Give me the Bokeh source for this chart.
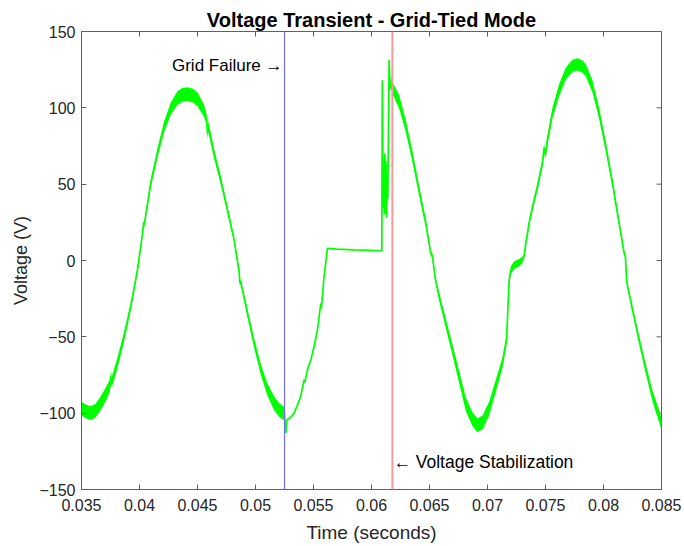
from bokeh.plotting import figure
from bokeh.models import Range1d, FixedTicker, Label, Span, ColumnDataSource
from bokeh.embed import file_html
from bokeh.resources import INLINE

# ---- data ----
time_s = [
    0.03500, 0.03540, 0.03580, 0.03620, 0.03666, 0.03710, 0.03745, 0.03753, 0.03760, 0.03810,
    0.03867, 0.03925, 0.03983, 0.04030, 0.04036, 0.04040, 0.04097, 0.04155, 0.04212, 0.04270,
    0.04328, 0.04370, 0.04414, 0.04460, 0.04500, 0.04557, 0.04580, 0.04586, 0.04592, 0.04643,
    0.04701, 0.04759, 0.04816, 0.04860, 0.04866, 0.04873, 0.04931, 0.04988, 0.05046, 0.05103,
    0.05160, 0.05205, 0.05250,
    0.05255, 0.05262, 0.05270, 0.05300, 0.05333, 0.05360, 0.05390, 0.05419, 0.05425, 0.05448,
    0.05477, 0.05505, 0.05534, 0.05563, 0.05568, 0.05591, 0.05620, 0.05700, 0.05850, 0.06089,
    0.06093, 0.06100, 0.06105, 0.06110, 0.06115, 0.06120, 0.06125, 0.06130, 0.06135, 0.06140,
    0.06145, 0.06152, 0.06160,
    0.06167, 0.06181, 0.06238, 0.06296, 0.06353, 0.06410, 0.06468, 0.06510, 0.06525, 0.06550,
    0.06583, 0.06640, 0.06698, 0.06755, 0.06813, 0.06871, 0.06914, 0.06957, 0.07014, 0.07072,
    0.07129, 0.07164, 0.07178, 0.07186, 0.07201, 0.07229, 0.07272, 0.07302, 0.07316, 0.07330,
    0.07359, 0.07388, 0.07431, 0.07474, 0.07488, 0.07498, 0.07517, 0.07560, 0.07617, 0.07675,
    0.07733, 0.07776, 0.07820, 0.07848, 0.07905, 0.07962, 0.08020, 0.08078, 0.08130, 0.08178,
    0.08190, 0.08200, 0.08250, 0.08307, 0.08366, 0.08423, 0.08480, 0.08500,
]
voltage_v = [
    -97, -99, -100, -98.5, -93.5, -87.5, -82, -76, -80, -67,
    -50, -30, -6, 20, 25, 23, 50.5, 70.5, 87.5, 99.5,
    106.5, 108.5, 109, 108, 105.5, 98, 92, 83, 88, 70,
    52.5, 33, 13.5, -8, -15, -14, -34.5, -54, -71.5, -84.5,
    -93.5, -98, -100.5,
    -106, -113, -104.5, -103, -100, -95, -89, -78, -80, -71.5,
    -65, -56.5, -45.5, -28, -31, -10.5, 8, 7.5, 7, 6.4,
    118, 35, 60, 30, 70, 32, 65, 28, 55, 40,
    72, 131.5, 112,
    117, 113, 104, 88, 68, 46, 24.5, 5, 3, -12,
    -23.5, -41, -58.5, -76, -94, -104, -108, -106, -97, -82,
    -67, -52, -28, -13, -6.5, -3, -1.5, 0.5, 3, 11,
    24.5, 35, 48.5, 64, 74, 69, 79, 96.5, 111.5, 122.5,
    127.5, 128.5, 127, 124.5, 114, 96.5, 74.5, 50.5, 26.5, 5,
    2, -14, -32, -52, -71.5, -89, -102, -107,
]
ripple_v = [
    4.5, 4.5, 4.5, 4.5, 4.5, 4.5, 4, 3.5, 3.5, 3.5,
    3, 2.5, 1.5, 1.5, 1.5, 1.5, 2.5, 3, 3.5, 4,
    4.5, 4.5, 4.5, 4.5, 4.5, 4, 3.5, 3.5, 3.5, 3,
    2.5, 2, 1.5, 1.5, 1.5, 1.5, 2.5, 3, 3.5, 4,
    4.5, 4.5, 4.5,
    0, 0, 0, 0, 0, 0, 0, 0, 0, 0,
    0, 0, 0, 0, 0, 0, 0, 0, 0, 0,
    0, 0, 0, 0, 0, 0, 0, 0, 0, 0,
    0, 0, 0,
    3.5, 4, 4.5, 4, 3.5, 3, 2.5, 1.5, 1.5, 1.5,
    2.5, 3, 3.5, 4, 4.5, 4.5, 4.5, 4.5, 4.5, 4,
    3.5, 2.5, 1, 1.5, 2.5, 2.5, 2.5, 2, 1.5, 1.5,
    2, 2, 2.5, 2.5, 2.5, 2.5, 3, 3.5, 4, 4,
    4, 4, 4, 4, 4, 3.5, 3, 2.5, 2, 1,
    1, 1, 2, 2.5, 3, 3.5, 4, 4,
]
grid_failure_t = 0.0525
stabilization_t = 0.0618
x_ticks = [0.035, 0.04, 0.045, 0.05, 0.055, 0.06, 0.065, 0.07, 0.075, 0.08, 0.085]
x_tick_labels = ["0.035", "0.04", "0.045", "0.05", "0.055", "0.06", "0.065", "0.07", "0.075", "0.08", "0.085"]
y_ticks = [-150, -100, -50, 0, 50, 100, 150]

X0, X1 = 0.035, 0.085
Y0, Y1 = -150, 150
W, H = 684, 546
BL, BR, BT, BB = 81, 23, 31, 57
TICK_PX = 5

src = ColumnDataSource(dict(
    t=time_s, v=voltage_v,
    lo=[a - b for a, b in zip(voltage_v, ripple_v)],
    hi=[a + b for a, b in zip(voltage_v, ripple_v)],
))

FONT = "Liberation Sans"
TXT = "#262626"
AX = "#606060"

p = figure(width=W, height=H, output_backend="svg", toolbar_location=None,
           x_range=Range1d(X0, X1), y_range=Range1d(Y0, Y1),
           min_border_left=BL, min_border_right=BR, min_border_top=BT, min_border_bottom=BB,
           background_fill_color="white", border_fill_color="white")
p.xgrid.visible = False
p.ygrid.visible = False
p.outline_line_color = AX

p.title.text = "Voltage Transient - Grid-Tied Mode"
p.title.align = "center"
p.title.offset = 4
p.title.text_font = FONT
p.title.text_font_style = "bold"
p.title.text_font_size = "20px"
p.title.text_color = "black"
p.title.standoff = 2

for ax in (p.xaxis[0], p.yaxis[0]):
    ax.major_tick_in = TICK_PX
    ax.major_tick_out = 0
    ax.minor_tick_in = 0
    ax.minor_tick_out = 0
    ax.axis_line_color = AX
    ax.major_tick_line_color = AX
    ax.major_label_text_font = FONT
    ax.major_label_text_font_size = "16px"
    ax.major_label_text_color = TXT
    ax.axis_label_text_font = FONT
    ax.axis_label_text_font_style = "normal"
    ax.axis_label_text_color = TXT

p.xaxis[0].ticker = FixedTicker(ticks=x_ticks)
p.xaxis[0].major_label_overrides = {t: s for t, s in zip(x_ticks, x_tick_labels)}
p.xaxis[0].axis_label = "Time (seconds)"
p.xaxis[0].axis_label_text_font_size = "19px"
p.xaxis[0].major_label_standoff = 9
p.xaxis[0].axis_label_standoff = 8
p.yaxis[0].ticker = FixedTicker(ticks=y_ticks)
p.yaxis[0].axis_label = "Voltage (V)"
p.yaxis[0].axis_label_text_font_size = "18px"
p.yaxis[0].major_label_standoff = 6
p.yaxis[0].axis_label_standoff = 5

# inward ticks on the top and right edges of the box
dx = (X1 - X0) * TICK_PX / (W - BL - BR)
dy = (Y1 - Y0) * TICK_PX / (H - BT - BB)
p.segment(x0=x_ticks, y0=[Y1] * len(x_ticks), x1=x_ticks, y1=[Y1 - dy] * len(x_ticks),
          line_color=AX, line_width=1)
p.segment(x0=[X1] * len(y_ticks), y0=y_ticks, x1=[X1 - dx] * len(y_ticks), y1=y_ticks,
          line_color=AX, line_width=1)

p.varea(x="t", y1="lo", y2="hi", source=src, fill_color="#00ff00")
p.line(x="t", y="v", source=src, line_color="#00ff00", line_width=1.7)

p.add_layout(Span(location=grid_failure_t, dimension="height", line_color="#7070ff", line_width=1.2))
p.add_layout(Span(location=stabilization_t, dimension="height", line_color="#f29a9a", line_width=2))

p.add_layout(Label(x=grid_failure_t, y=128, x_offset=-2, text="Grid Failure \u2192", text_align="right",
                   text_baseline="middle", text_font=FONT, text_font_size="17px", text_color="black"))
p.add_layout(Label(x=stabilization_t, y=-132, x_offset=1, text="\u2190 Voltage Stabilization", text_align="left",
                   text_baseline="middle", text_font=FONT, text_font_size="17.5px", text_color="black"))

open("out.html", "w").write(file_html(p, INLINE))
